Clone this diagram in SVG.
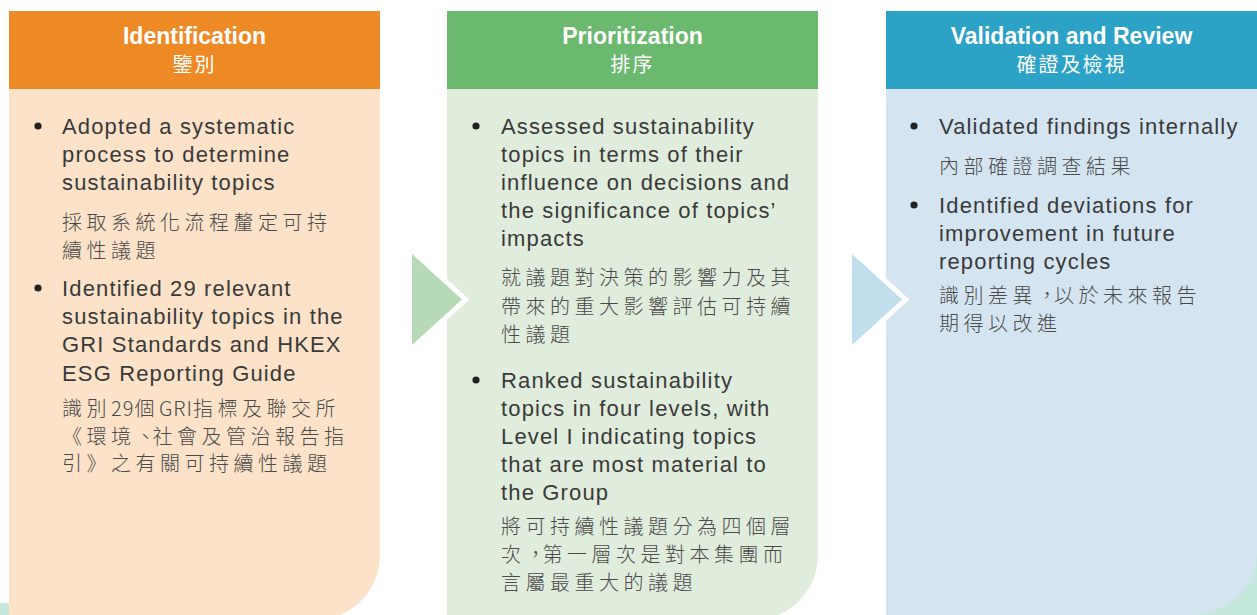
<svg xmlns="http://www.w3.org/2000/svg" width="1257" height="615" viewBox="0 0 1257 615">
<style>
.hd{font-family:"Liberation Sans","Noto Sans CJK TC",sans-serif;font-weight:bold;font-size:23px;fill:#fff;text-anchor:middle}
.hc{font-family:"Noto Sans CJK TC",sans-serif;font-size:20px;fill:#fff;text-anchor:middle;letter-spacing:2px}
.en{font-family:"Liberation Sans",sans-serif;font-size:22px;fill:#3a3a3a;letter-spacing:1.15px}
.zh{font-family:"Noto Sans CJK TC",sans-serif;font-size:20px;font-weight:300;fill:#4a4a4a;letter-spacing:4.5px}
.t{letter-spacing:1px}
.p{letter-spacing:-3px}
.bl{fill:#222}
</style>
<rect width="1257" height="615" fill="#fff"/>
<g id="decor">
<path d="M0 603 Q5 602 10 604 L10 615 L0 615 Z" fill="#c5e8dc"/>
<rect x="1180" y="530" width="77" height="85" fill="#c5e8dc"/>
</g>
<g id="identification">
<path d="M9 11 H380 V555 A65 65 0 0 1 315 620 H9 Z" fill="#fbe2c8"/>
<rect x="9" y="11" width="371" height="78" fill="#ee8a25"/>
<text class="hd" x="194.5" y="44">Identification</text>
<text class="hc" x="194.5" y="72">鑒別</text>
<circle class="bl" cx="38" cy="126" r="3.6"/>
<text class="en" x="62" y="134">Adopted a systematic</text>
<text class="en" x="62" y="162">process to determine</text>
<text class="en" x="62" y="190">sustainability topics</text>
<text class="zh" x="62" y="230">採取系統化流程釐定可持</text>
<text class="zh" x="62" y="258">續性議題</text>
<circle class="bl" cx="38" cy="288" r="3.6"/>
<text class="en" x="62" y="296">Identified 29 relevant</text>
<text class="en" x="62" y="324">sustainability topics in the</text>
<text class="en" x="62" y="352">GRI Standards and HKEX</text>
<text class="en" x="62" y="381">ESG Reporting Guide</text>
<text class="zh" x="62" y="416">識別<tspan class="t">29</tspan>個<tspan class="t">GRI</tspan>指標及聯交所</text>
<text class="zh" x="62" y="444">《環境<tspan class="p">、</tspan>社會及管治報告指</text>
<text class="zh" x="62" y="471">引》之有關可持續性議題</text>
</g>
<g id="prioritization">
<path d="M447 11 H818 V555 A65 65 0 0 1 753 620 H447 Z" fill="#e0ecdc"/>
<rect x="447" y="11" width="371" height="78" fill="#6bb86f"/>
<text class="hd" x="632.5" y="44">Prioritization</text>
<text class="hc" x="632.5" y="72">排序</text>
<circle class="bl" cx="476" cy="126" r="3.6"/>
<text class="en" x="501" y="134">Assessed sustainability</text>
<text class="en" x="501" y="162">topics in terms of their</text>
<text class="en" x="501" y="190">influence on decisions and</text>
<text class="en" x="501" y="218">the significance of topics’</text>
<text class="en" x="501" y="246">impacts</text>
<text class="zh" x="501" y="285">就議題對決策的影響力及其</text>
<text class="zh" x="501" y="314">帶來的重大影響評估可持續</text>
<text class="zh" x="501" y="342">性議題</text>
<circle class="bl" cx="476" cy="380" r="3.6"/>
<text class="en" x="501" y="388">Ranked sustainability</text>
<text class="en" x="501" y="416">topics in four levels, with</text>
<text class="en" x="501" y="444">Level I indicating topics</text>
<text class="en" x="501" y="472">that are most material to</text>
<text class="en" x="501" y="500">the Group</text>
<text class="zh" x="501" y="534">將可持續性議題分為四個層</text>
<text class="zh" x="501" y="562">次<tspan class="p">，</tspan>第一層次是對本集團而</text>
<text class="zh" x="501" y="590">言屬最重大的議題</text>
</g>
<g id="validation">
<path d="M886 11 H1257 V550 A65 65 0 0 1 1192 615 H886 Z" fill="#d4e5f1"/>
<rect x="886" y="11" width="371" height="78" fill="#2ba2c6"/>
<text class="hd" x="1071.5" y="44">Validation and Review</text>
<text class="hc" x="1071.5" y="72">確證及檢視</text>
<circle class="bl" cx="914" cy="126" r="3.6"/>
<text class="en" x="939" y="134">Validated findings internally</text>
<text class="zh" x="939" y="174">內部確證調查結果</text>
<circle class="bl" cx="914" cy="205" r="3.6"/>
<text class="en" x="939" y="213">Identified deviations for</text>
<text class="en" x="939" y="241">improvement in future</text>
<text class="en" x="939" y="269">reporting cycles</text>
<text class="zh" x="939" y="303">識別差異<tspan class="p">，</tspan>以於未來報告</text>
<text class="zh" x="939" y="331">期得以改進</text>
</g>
<g id="connectors">
<polygon points="412,254 462,299.5 412,345" fill="#b5dab5" stroke="#fff" stroke-width="10" stroke-linejoin="miter" paint-order="stroke"/>
<polygon points="852,254 902,299.5 852,345" fill="#c0deec" stroke="#fff" stroke-width="10" stroke-linejoin="miter" paint-order="stroke"/>
</g>
</svg>
